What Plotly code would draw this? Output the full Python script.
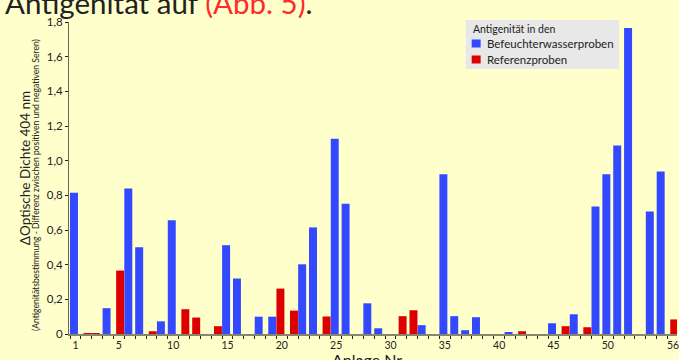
import plotly.graph_objects as go

categories = list(range(1, 57))

humidifier_values = [
    0.815, None, None, 0.149, None, 0.840, 0.500, None, 0.073, 0.656,
    None, None, None, None, 0.512, 0.320, None, 0.100, 0.100, None,
    None, 0.402, 0.615, None, 1.126, 0.752, None, 0.177, 0.033, None,
    None, None, 0.051, None, 0.921, 0.103, 0.022, 0.097, None, None,
    0.010, None, None, None, 0.062, None, 0.114, None, 0.736, 0.921,
    1.088, 1.766, None, 0.707, 0.938, None,
]

reference_values = [
    None, 0.005, 0.005, None, 0.366, None, None, 0.016, None, None,
    0.143, 0.095, None, 0.045, None, None, None, None, None, 0.262,
    0.135, None, None, 0.101, None, None, None, None, None, None,
    0.103, 0.137, None, None, None, None, None, None, None, None,
    None, 0.016, None, None, None, 0.045, None, 0.039, None, None,
    None, None, None, None, None, 0.084,
]

series_names = ["Befeuchterwasserproben", "Referenzproben"]
legend_title = "Antigenität in den"
labelled_categories = [1, 5, 10, 15, 20, 25, 30, 35, 40, 45, 50, 56]
y_ticks = [0, 0.2, 0.4, 0.6, 0.8, 1.0, 1.2, 1.4, 1.6, 1.8]
y_tick_labels = ["0", "0,2", "0,4", "0,6", "0,8", "1,0", "1,2", "1,4", "1,6", "1,8"]

# bars drawn in the other slot of their category in the original
humidifier_right_slot = [19]
reference_left_slot = [3, 20]

BG = "#FFFFCC"
BLUE = "#3349FF"
RED = "#DD0000"
FONT = "Lato"
TXT = "#222222"

LEFT_OFF, RIGHT_OFF, BAR_W = -0.5, -0.252, 0.734

blue_off = [RIGHT_OFF if c in humidifier_right_slot else LEFT_OFF for c in categories]
red_off = [LEFT_OFF if c in reference_left_slot else RIGHT_OFF for c in categories]

fig = go.Figure()
fig.add_trace(go.Bar(
    x=categories, y=humidifier_values, name=series_names[0],
    marker=dict(color=BLUE, line=dict(width=0)),
    offset=blue_off, width=BAR_W, showlegend=False,
))
fig.add_trace(go.Bar(
    x=categories, y=reference_values, name=series_names[1],
    marker=dict(color=RED, line=dict(width=0)),
    offset=red_off, width=BAR_W, showlegend=False,
))

L, R, T, B = 69, 0, 22, 26
W, H = 679, 360
pw = W - L - R
ph = H - T - B


def px(xp):
    return (xp - L) / pw


def py(yp):
    return (H - B - yp) / ph


fig.update_layout(
    width=W, height=H,
    margin=dict(l=L, r=R, t=T, b=B, pad=0),
    paper_bgcolor=BG, plot_bgcolor=BG,
    barmode="overlay",
    font=dict(family=FONT, color=TXT),
    showlegend=False,
    xaxis=dict(
        type="category",
        range=[-0.592, 55.37],
        tickmode="array",
        tickvals=categories,
        ticktext=[str(c) if c in labelled_categories else "" for c in categories],
        tickson="boundaries", tickangle=0,
        ticks="outside", ticklen=3, tickwidth=1, tickcolor=TXT,
        tickfont=dict(size=10.5, color=TXT),
        showline=True, linecolor="#86866c", linewidth=2,
        showgrid=False, zeroline=False,
    ),
    yaxis=dict(
        range=[0, 1.8],
        tickmode="array", tickvals=y_ticks, ticktext=y_tick_labels,
        ticks="outside", ticklen=3, tickwidth=1, tickcolor=TXT,
        tickfont=dict(size=11.5, color=TXT),
        showline=True, linecolor="#666", linewidth=1,
        showgrid=False, zeroline=False,
    ),
)

# custom legend box
fig.add_shape(type="rect", xref="paper", yref="paper",
              x0=px(467), x1=px(621), y0=py(69), y1=py(20),
              fillcolor="#E8E8E8", line=dict(width=0), layer="above")
fig.add_annotation(text=legend_title, xref="paper", yref="paper",
                   x=px(472), y=py(28.5), xanchor="left", yanchor="middle",
                   showarrow=False, font=dict(size=10.5, color=TXT))
for name, color, yc in [(series_names[0], BLUE, 43.5), (series_names[1], RED, 59.5)]:
    fig.add_shape(type="rect", xref="paper", yref="paper",
                  x0=px(473), x1=px(482), y0=py(yc + 4), y1=py(yc - 4),
                  fillcolor=color, line=dict(width=0), layer="above")
    fig.add_annotation(text=name, xref="paper", yref="paper",
                       x=px(486), y=py(yc), xanchor="left", yanchor="middle",
                       showarrow=False, font=dict(size=11.5, color=TXT))

fig.add_annotation(
    text='Antigenität auf <span style="color:#FF2A2A">(Abb. 5)</span>.',
    xref="paper", yref="paper", x=px(3), y=1.0,
    xanchor="left", yanchor="bottom", showarrow=False,
    font=dict(size=29.5, family=FONT, color=TXT),
)
fig.add_annotation(
    text="ΔOptische Dichte 404 nm",
    xref="paper", yref="paper", x=px(25), y=py(168),
    xanchor="center", yanchor="middle", textangle=-90, showarrow=False,
    font=dict(size=13.5, family=FONT, color=TXT),
)
fig.add_annotation(
    text="(Antigenitätsbestimmung - Differenz zwischen positiven und negativen Seren)",
    xref="paper", yref="paper", x=px(36), y=py(185),
    xanchor="center", yanchor="middle", textangle=-90, showarrow=False,
    font=dict(size=8.6, family=FONT, color=TXT),
)
fig.add_annotation(
    text="Anlage Nr.",
    xref="paper", yref="paper", x=px(369), y=py(348),
    xanchor="center", yanchor="top", showarrow=False,
    font=dict(size=16, family=FONT, color=TXT),
)

fig.write_html("out.html")
